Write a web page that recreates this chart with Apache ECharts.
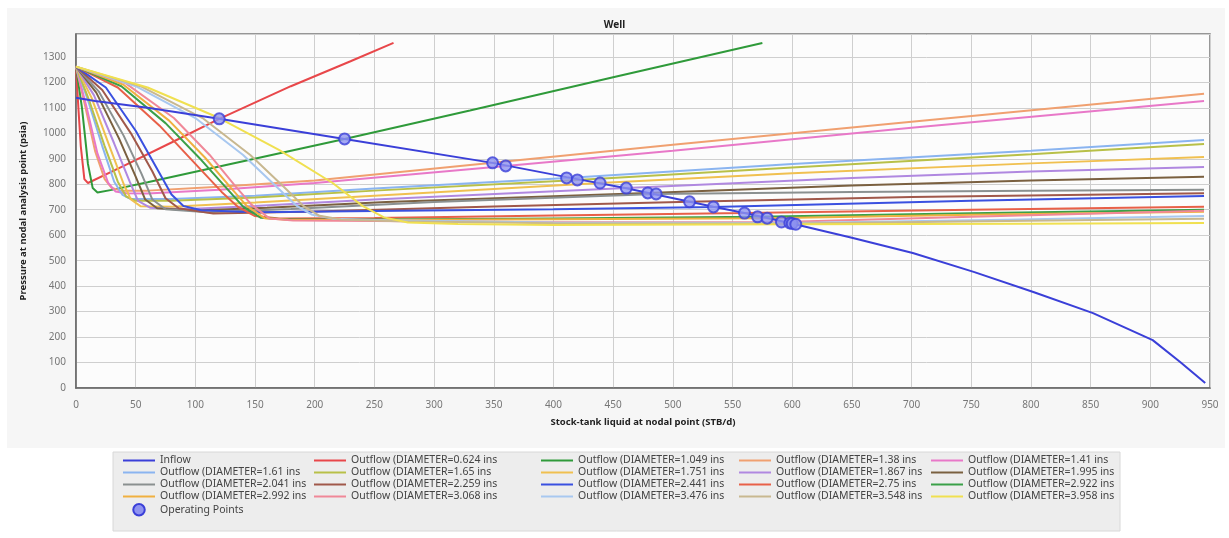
<!DOCTYPE html>
<html>
<head>
<meta charset="utf-8">
<script src="https://cdn.jsdelivr.net/npm/echarts@6/dist/echarts.min.js"></script>
<style>
  html, body { margin: 0; padding: 0; background: #fff; }
  #main { width: 1229px; height: 538px; }
</style>
</head>
<body>
<div id="main"></div>
<script>
// data: [rate STB/d, pressure psia]
var inflow = [[0,1140],[16,1127],[60,1100],[120,1057],[225,978],[349,884],[411,828],[460,785],[534,712],[560,687],[598,648],[650,590],[701,530],[752,456],[802,377],[852,294],[902,188],[925,102],[946,20]];

var operatingPoints = [[120,1057],[225,978],[349,884],[360,872],[411,825],[420,817],[439,805],[461,785],[479,766],[486,762],[514,731],[534,711],[560,687],[571,672],[579,667],[591,652],[598,648],[600,646],[603,643]];

var diameters = ['0.624','1.049','1.38','1.41','1.61','1.65','1.751','1.867','1.995','2.041','2.259','2.441','2.75','2.922','2.992','3.068','3.476','3.548','3.958'];

var out0624 = [[0,1262],[2,1100],[4,950],[7,820],[10,805],[40,872],[80,964],[120,1057],[180,1185],[230,1283],[266,1355]];
var out1049 = [[0,1262],[5,1100],[10,880],[14,785],[18,768],[30,778],[60,808],[120,870],[225,978],[330,1090],[450,1220],[575,1355]];
var out138  = [[0,1262],[8,1100],[16,930],[24,820],[30,785],[38,775],[60,775],[120,790],[200,815],[349,884],[500,955],[700,1045],[945,1155]];
var out141  = [[0,1262],[9,1100],[18,920],[27,805],[33,772],[42,765],[60,764],[120,778],[200,805],[360,872],[500,932],[700,1022],[945,1127]];
var out161  = [[0,1262],[10,1130],[22,950],[32,810],[39,758],[46,742],[80,742],[150,755],[250,783],[411,825],[600,880],[800,932],[945,974]];
var out165  = [[0,1262],[11,1130],[24,950],[35,810],[42,752],[50,735],[80,735],[150,748],[250,775],[420,817],[600,866],[800,918],[945,958]];
var out1751 = [[0,1262],[13,1140],[28,950],[40,800],[46,740],[54,714],[80,712],[150,728],[250,755],[439,805],[600,843],[800,882],[945,907]];
var out1867 = [[0,1262],[15,1150],[32,960],[45,810],[52,735],[62,708],[90,702],[150,715],[250,740],[461,785],[650,825],[800,850],[945,868]];
var out1995 = [[0,1262],[17,1160],[36,980],[50,830],[58,740],[68,706],[100,697],[160,708],[260,730],[479,766],[650,795],[800,815],[945,829]];
var out2041 = [[0,1262],[19,1165],[40,990],[55,840],[64,740],[75,702],[110,690],[180,703],[300,730],[486,762],[650,770],[800,775],[945,778]];
var out2259 = [[0,1262],[22,1170],[46,1000],[64,850],[75,745],[86,706],[115,685],[200,693],[350,713],[514,731],[700,750],[945,765]];
var out2441 = [[0,1262],[25,1180],[50,1010],[68,860],[80,760],[90,715],[105,698],[150,690],[250,695],[400,702],[534,711],[750,735],[945,754]];
var out275  = [[0,1262],[35,1180],[70,1030],[100,880],[122,770],[136,710],[150,675],[170,666],[250,668],[400,677],[560,687],[750,700],[945,712]];
var out2922 = [[0,1262],[38,1185],[75,1040],[105,895],[127,780],[140,712],[155,668],[175,663],[250,662],[400,666],[571,672],[750,686],[945,700]];
var out2992 = [[0,1262],[40,1190],[78,1050],[108,905],[130,785],[143,715],[158,667],[178,661],[250,660],[400,663],[579,667],[750,680],[945,692]];
var out3068 = [[0,1262],[42,1195],[82,1060],[112,915],[134,790],[147,720],[162,666],[182,658],[250,656],[400,651],[591,652],[750,672],[945,696]];
var out3476 = [[0,1262],[50,1185],[100,1060],[140,915],[168,790],[185,715],[198,680],[215,665],[260,659],[400,650],[598,648],[780,661],[945,675]];
var out3548 = [[0,1262],[54,1185],[106,1060],[146,915],[174,790],[191,713],[204,676],[222,662],[270,655],[400,647],[600,646],[780,656],[945,665]];
var out3958 = [[0,1262],[60,1180],[120,1060],[170,935],[215,805],[240,715],[258,670],[278,650],[320,644],[400,640],[603,643],[800,645],[945,648]];

var outflows = [out0624,out1049,out138,out141,out161,out165,out1751,out1867,out1995,out2041,out2259,out2441,out275,out2922,out2992,out3068,out3476,out3548,out3958];

var outColors = ['#e8474a','#2f9a3a','#f0a070','#e878c8','#8ab4f0','#b8c048','#f0c050','#b088e0','#7a6040','#8a9090','#a0584a','#3a50e0','#e86048','#3aa048','#f0b040','#f08898','#a8c8f0','#c8b890','#f0e050'];

var myChart = echarts.init(document.getElementById('main'));

function outName(d) { return 'Outflow (DIAMETER=' + d + ' ins'; }

var series = [];
outflows.forEach(function (curve, i) {
  series.push({
    name: outName(diameters[i]),
    type: 'line',
    data: curve,
    symbol: 'none',
    lineStyle: { color: outColors[i], width: 2 },
    itemStyle: { color: outColors[i] },
    z: 2
  });
});
series.push({
  name: 'Inflow',
  type: 'line',
  data: inflow,
  symbol: 'none',
  lineStyle: { color: '#3a3fd8', width: 2 },
  itemStyle: { color: '#3a3fd8' },
  z: 3
});
series.push({
  name: 'Operating Points',
  type: 'scatter',
  data: operatingPoints,
  symbol: 'circle',
  symbolSize: 11,
  itemStyle: { color: '#8f93f0', borderColor: '#3a3fd8', borderWidth: 2 },
  z: 4
});

// legend laid out as 5 columns like the original
var cols = [
  ['Inflow', outName('1.61'), outName('2.041'), outName('2.992'), { name: 'Operating Points', itemStyle: { opacity: 1 } }],
  [outName('0.624'), outName('1.65'), outName('2.259'), outName('3.068')],
  [outName('1.049'), outName('1.751'), outName('2.441'), outName('3.476')],
  [outName('1.38'), outName('1.867'), outName('2.75'), outName('3.548')],
  [outName('1.41'), outName('1.995'), outName('2.922'), outName('3.958')]
];
var colLeft = [122, 313, 540, 738, 930];
var legends = cols.map(function (c, i) {
  return {
    data: c,
    orient: 'vertical',
    left: colLeft[i],
    top: 455,
    padding: 0,
    itemGap: 1,
    itemWidth: 32,
    itemHeight: 11.5,
    selectedMode: false,
    itemStyle: { opacity: 0 },
    textStyle: { fontSize: 10.5, color: '#444', fontFamily: 'Noto Sans' }
  };
});

var option = {
  animation: false,
  backgroundColor: '#ffffff',
  textStyle: { fontFamily: 'Noto Sans' },
  graphic: [
    { type: 'rect', z: -10, shape: { x: 7, y: 8, width: 1218, height: 440 }, style: { fill: '#f6f6f6' } },
    { type: 'rect', z: -10, shape: { x: 113, y: 452, width: 1007, height: 79 }, style: { fill: '#ededed', stroke: '#d8d8d8', lineWidth: 1 } }
  ],
  title: {
    text: 'Well',
    left: 'center',
    top: 15,
    textStyle: { fontSize: 10, fontWeight: 'bold', color: '#222' }
  },
  legend: legends,
  grid: {
    left: 76,
    right: 19,
    top: 34,
    bottom: 150,
    show: true,
    backgroundColor: '#fcfcfc',
    borderColor: '#777',
    borderWidth: 1.5
  },
  xAxis: {
    type: 'value',
    min: 0,
    max: 950,
    interval: 50,
    name: 'Stock-tank liquid at nodal point (STB/d)',
    nameLocation: 'middle',
    nameGap: 29,
    nameTextStyle: { fontSize: 9.5, fontWeight: 'bold', color: '#222' },
    axisLine: { show: true, lineStyle: { color: '#666', width: 1.5 } },
    axisTick: { show: false },
    axisLabel: { fontSize: 10, color: '#777', margin: 12, formatter: function (v) { return String(v); } },
    splitLine: { show: true, lineStyle: { color: '#cfcfcf', width: 1 } }
  },
  yAxis: {
    type: 'value',
    min: 0,
    max: 1390,
    interval: 100,
    name: 'Pressure at nodal analysis point (psia)',
    nameLocation: 'middle',
    nameGap: 48,
    nameTextStyle: { fontSize: 9.5, fontWeight: 'bold', color: '#222' },
    axisLine: { show: true, lineStyle: { color: '#666', width: 1.5 } },
    axisTick: { show: false },
    axisLabel: { fontSize: 10, color: '#777', margin: 10, showMaxLabel: false, formatter: function (v) { return String(v); } },
    splitLine: { show: true, lineStyle: { color: '#cfcfcf', width: 1 } }
  },
  series: series
};

myChart.setOption(option);
</script>
</body>
</html>
